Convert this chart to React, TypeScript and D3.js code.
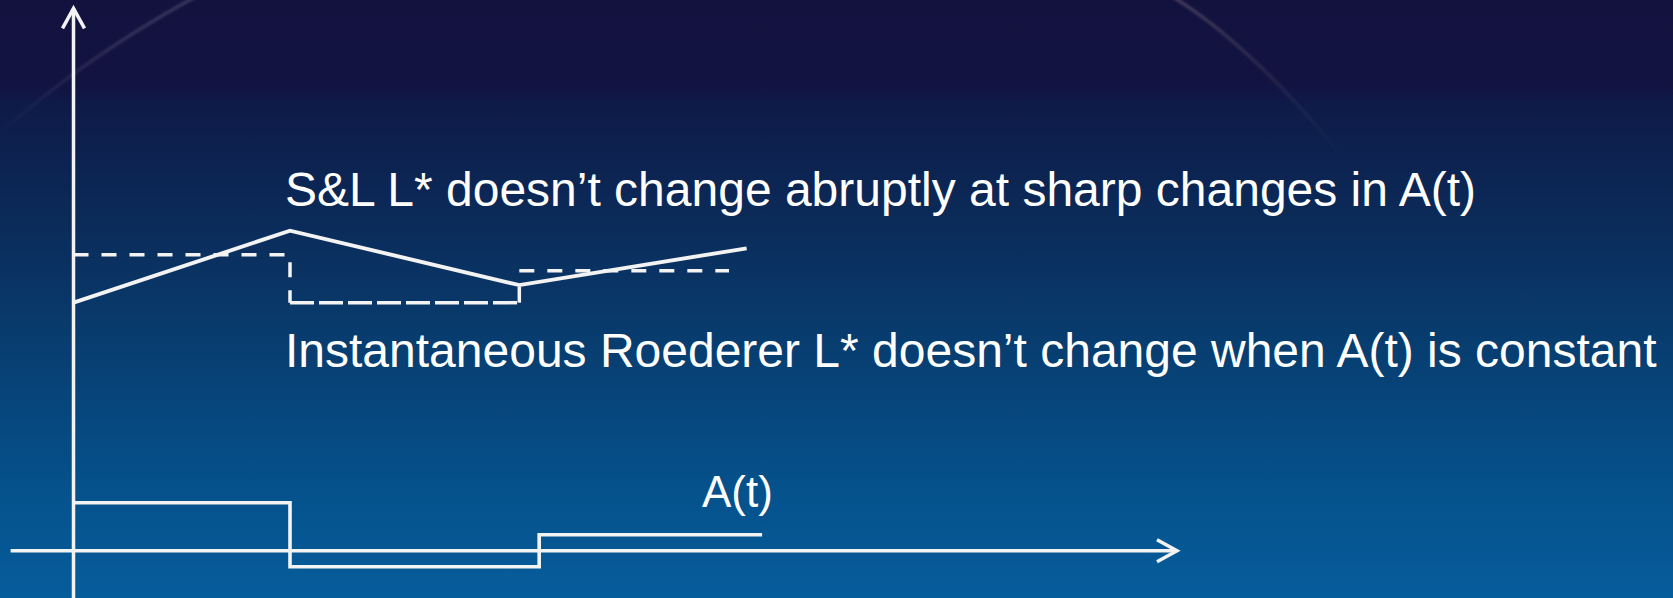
import React from 'react';
import * as d3 from 'd3';

const W = 1673;
const H = 598;

// S&L L* (solid): changes linearly between breakpoints
const slTimes = [0, 9.81, 20.2, 30.5];
const slValues = [15.5, 20.0, 16.6, 18.9];

// Instantaneous Roederer L* (dashed): piecewise constant
const roTimes = [0, 9.81, 20.2, 29.7];
const roValues = [18.5, 15.5, 17.5, 17.5];

// Forcing A(t): step function
const aTimes = [0, 9.81, 21.1, 31.2];
const aValues = [3, -1, 1, 1];

const captionTop = 'S&L L* doesn\u2019t change abruptly at sharp changes in A(t)';
const captionMid = 'Instantaneous Roederer L* doesn\u2019t change when A(t) is constant';
const forcingLabel = 'A(t)';

const FONT = '"Liberation Sans", Arial, Helvetica, sans-serif';
const INK = '#f3f3f3';

export default function App() {
  const x = d3.scaleLinear().domain([0, 50]).range([73.5, 1177]);
  const y = d3.scaleLinear().domain([-3, 34]).range([598.7, 6.7]);

  type P = [number, number];
  const toPts = (ts: number[], vs: number[]) => ts.map((t, i) => [t, vs[i]] as P);

  const straight = d3
    .line<P>()
    .x((d) => x(d[0]))
    .y((d) => y(d[1]));
  const stepped = d3
    .line<P>()
    .x((d) => x(d[0]))
    .y((d) => y(d[1]))
    .curve(d3.curveStepAfter);

  const slPath = straight(toPts(slTimes, slValues)) || '';
  const aPath = stepped(toPts(aTimes, aValues)) || '';

  // Roederer L* drawn piece by piece: high plateaus in a short dash (with the
  // drop that follows them), the low plateau in a longer dash, and each rise
  // as its own short stroke.
  const n = roTimes.length;
  const low = d3.min(roValues);
  const roPieces: { d: string; dash: string }[] = [];
  for (let i = 0; i < n - 1; i++) {
    const t0 = roTimes[i];
    const t1 = roTimes[i + 1];
    const v = roValues[i];
    const prev = i > 0 ? roValues[i - 1] : v;
    if (i > 0 && v > prev) {
      roPieces.push({ d: straight([[t0, prev], [t0, v]]) || '', dash: '16 20' });
    }
    const pts: P[] = [[t0, v], [t1, v]];
    const next = roValues[i + 1];
    if (i < n - 2 && next < v) pts.push([t1, next]);
    roPieces.push({ d: straight(pts) || '', dash: v === low ? '24 5' : '15 13' });
  }

  const x0 = x(0);
  const yZero = y(0);
  const xEnd = x(50);
  const yTop = y(33.9);
  const xStart = x(-2.85);

  const head = 20;
  const half = 11;

  return (
    <svg
      width={W}
      height={H}
      viewBox={`0 0 ${W} ${H}`}
      style={{ position: 'fixed', left: 0, top: 0, display: 'block' }}
    >
      <defs>
        <linearGradient id="bg" x1="0" y1="0" x2="0" y2="1">
          <stop offset="0" stopColor="#13123f" />
          <stop offset="0.14" stopColor="#121341" />
          <stop offset="0.18" stopColor="#0e1b49" />
          <stop offset="0.36" stopColor="#0b2a58" />
          <stop offset="0.56" stopColor="#083c6e" />
          <stop offset="0.8" stopColor="#05508a" />
          <stop offset="1" stopColor="#065d9b" />
        </linearGradient>
        <linearGradient id="arcL" gradientUnits="userSpaceOnUse" x1="0" y1="138" x2="195" y2="0">
          <stop offset="0" stopColor="#c8c0d0" stopOpacity="0" />
          <stop offset="0.6" stopColor="#c8c0d0" stopOpacity="0.15" />
          <stop offset="1" stopColor="#c8c0d0" stopOpacity="0.2" />
        </linearGradient>
        <linearGradient id="arcR" gradientUnits="userSpaceOnUse" x1="1172" y1="0" x2="1345" y2="160">
          <stop offset="0" stopColor="#c8b0a8" stopOpacity="0.26" />
          <stop offset="0.55" stopColor="#c8b0a8" stopOpacity="0.1" />
          <stop offset="1" stopColor="#c8b0a8" stopOpacity="0" />
        </linearGradient>
        <filter id="soft" x="-10%" y="-10%" width="120%" height="120%">
          <feGaussianBlur stdDeviation="1" />
        </filter>
      </defs>

      <rect x={0} y={0} width={W} height={H} fill="url(#bg)" />

      {/* decorative template arcs */}
      <path d="M -5 138 Q 80 60 195 -3" fill="none" stroke="url(#arcL)" strokeWidth={3.5} filter="url(#soft)" />
      <path d="M 1170 -5 Q 1252 45 1345 160" fill="none" stroke="url(#arcR)" strokeWidth={3.5} filter="url(#soft)" />

      {/* axes */}
      <g stroke={INK} strokeWidth={3.5} fill="none">
        <line x1={x0} y1={H + 2} x2={x0} y2={yTop} />
        <path d={`M ${x0 - half} ${yTop + head} L ${x0} ${yTop} L ${x0 + half} ${yTop + head}`} strokeLinejoin="miter" />
        <line x1={xStart} y1={yZero} x2={xEnd} y2={yZero} />
        <path d={`M ${xEnd - head} ${yZero - half} L ${xEnd} ${yZero} L ${xEnd - head} ${yZero + half}`} strokeLinejoin="miter" />
      </g>

      {/* series */}
      {roPieces.map((p, i) => (
        <path key={i} d={p.d} fill="none" stroke={INK} strokeWidth={3.5} strokeDasharray={p.dash} />
      ))}
      <path d={slPath} fill="none" stroke={INK} strokeWidth={3.9} strokeLinejoin="miter" />
      <path d={aPath} fill="none" stroke={INK} strokeWidth={3.6} strokeLinejoin="miter" />

      {/* captions */}
      <g fill="#ffffff" fontFamily={FONT}>
        <text x={285} y={206} fontSize={48}>{captionTop}</text>
        <text x={285} y={366.5} fontSize={48}>{captionMid}</text>
        <text x={702} y={507.3} fontSize={44}>{forcingLabel}</text>
      </g>
    </svg>
  );
}
